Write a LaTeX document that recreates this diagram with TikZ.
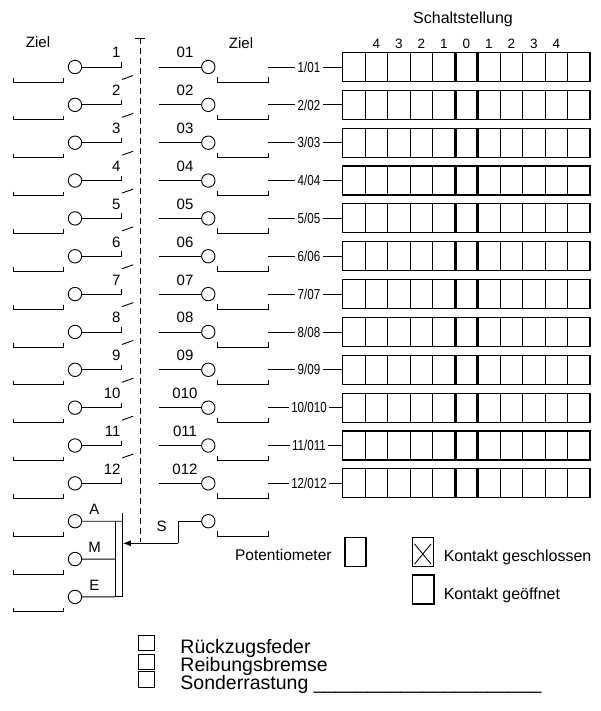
\documentclass[tikz,border=0pt]{standalone}
\usepackage{fontspec}
\setmainfont{Liberation Sans}
\newfontfamily\narrowfont[FakeStretch=0.8]{Liberation Sans}
\usetikzlibrary{arrows.meta}
\begin{document}
\begin{tikzpicture}[x=1pt,y=-1pt,line width=0.9pt,
  pivot/.style={circle,draw,line width=0.9pt,minimum size=13.4pt,inner sep=0pt},
  numlbl/.style={font=\fontsize{15}{15}\selectfont,inner sep=0pt},
  letlbl/.style={font=\fontsize{15}{15}\selectfont,inner sep=0pt},
  rowlbl/.style={font=\narrowfont\fontsize{14.5}{14.5}\selectfont,fill=white,inner xsep=2.5pt,inner ysep=0pt},
  boxline/.style={line width=1.15pt},
  thickline/.style={line width=2.6pt},
  legtxt/.style={font=\fontsize{16}{16}\selectfont,inner sep=0pt},
  bigtxt/.style={font=\fontsize{19.5}{19.5}\selectfont,inner sep=0pt,anchor=base west},
  chk/.style={line width=1pt}]
\useasboundingbox (0,0) rectangle (600,711);

% headings
\node[font=\fontsize{15}{15}\selectfont,inner sep=0pt] (ziell) at (38,42.5) {Ziel};
\node[font=\fontsize{15}{15}\selectfont,inner sep=0pt] (zielr) at (241,43.3) {Ziel};
\node[font=\fontsize{16}{16}\selectfont,inner sep=0pt] (schalt) at (463,19.5) {Schaltstellung};
\foreach \d [count=\k] in {4,3,2,1,0,1,2,3,4}
  \node[font=\fontsize{13.5}{13.5}\selectfont,inner sep=0pt] (col\k) at (342.7+\k*22.5+11.25,44) {\d};

% dashed actuator with T
\coordinate (ttop) at (140,38);
\coordinate (tbot) at (140,541.7);
\draw (135,38) -- (144.5,38);
\draw[dash pattern=on 6pt off 4pt] (ttop) -- (tbot);

% rows 1..12
\foreach \i [evaluate=\i as \y using 67+(\i-1)*37.85] in {1,...,12} {
  % left contact
  \node[pivot] (L\i) at (75,\y) {};
  \draw (L\i.east) -- (121,\y) -- (121,\y-5);
  \draw (13,\y+11) -- (13,\y+15) -- (63,\y+15) -- (63,\y+11);
  \node[numlbl,anchor=base east] (nl\i) at (121,\y-9) {\i};
  % right contact
  \node[pivot] (R\i) at (208.3,\y) {};
  \draw (159,\y) -- (R\i.west);
  \draw (217,\y+10) -- (217,\y+15) -- (268,\y+15) -- (268,\y+10);
  \node[numlbl,anchor=base] (nr\i) at (185,\y-9) {0\i};
  % row label and box
  \coordinate (bx\i) at (342.7,\y);
  \draw (268,\y) -- (bx\i);
  \node[rowlbl] (rl\i) at (309,\y) {\i/0\i};
  \draw[boxline] (342.7,\y-14.5) rectangle (590,\y+14.5);
  \foreach \k in {1,2,3,4,7,8,9,10}
    \draw[boxline] (342.7+\k*22.5,\y-14.5) -- ++(0,29);
  \foreach \k in {5,6}
    \draw[thickline] (342.7+\k*22.5,\y-14.5) -- ++(0,29);
}
% diagonal open-switch marks
\foreach \i [evaluate=\i as \y using 67+(\i-1)*37.85] in {1,...,11}
  \draw (122,\y+12.5) -- (133.3,\y+8.5);

% A, M, E contacts
\foreach \n/\t in {13/A,14/M,15/E} {
  \pgfmathsetmacro{\y}{67+(\n-1)*37.85}
  \node[pivot] (L\t) at (75,\y) {};
  \draw (13,\y+11) -- (13,\y+15) -- (63,\y+15) -- (63,\y+11);
  \node[letlbl] (lb\t) at (94.5,\y-12) {\t};
}
\coordinate (busA) at (122.7,521.2);
\coordinate (busM) at (115,559.05);
\coordinate (busE) at (115,596.9);
\draw (LA.east) -- (busA);
\draw (LM.east) -- (busM);
\draw (LE.east) -- (busE);
\draw (122.7,513.3) -- (122.7,596.9) -- (busE) -- (115,521.2);

% S contact and wiper arrow
\node[pivot] (RS) at (208.3,521.2) {};
\draw (217,531.2) -- (217,536.2) -- (268,536.2) -- (268,531.2);
\coordinate (s0) at (178,543.3);
\coordinate (wiper) at (122.9,543.3);
\draw[-{Latex[length=8pt,width=6pt]}] (s0) -- (wiper);
\draw (s0) -- (178,521.2) -- (RS.west);
\node[font=\fontsize{15}{15}\selectfont,inner sep=0pt] (slbl) at (161.7,526.7) {S};

% legend
\node[legtxt,anchor=base east,font=\fontsize{15.5}{15.5}\selectfont] (poti) at (332,560.6) {Potentiometer};
\draw[boxline] (345,537.3) rectangle (366,566.7);
\draw[boxline] (412.3,537.3) rectangle (433.3,566.3);
\draw (414.6,544) -- (431,564);
\draw (431,544) -- (414.6,564);
\node[legtxt,anchor=base west] (kg) at (443.3,561.5) {Kontakt geschlossen};
\draw[boxline] (412.3,575) rectangle (434,604);
\node[legtxt,anchor=base west] (ko) at (443.3,599.3) {Kontakt geöffnet};

% bottom options
\draw[chk] (138.3,635) rectangle (154,650.7);
\draw[chk] (138.3,654) rectangle (154,669);
\draw[chk] (138.3,671.7) rectangle (154,687.3);
\node[bigtxt] (o1) at (180,653.3) {Rückzugsfeder};
\node[bigtxt] (o2) at (180,671.7) {Reibungsbremse};
\node[bigtxt] (o3) at (180,689.5) {Sonderrastung \_\_\_\_\_\_\_\_\_\_\_\_\_\_\_\_\_\_\_\_\_};
\end{tikzpicture}
\end{document}
